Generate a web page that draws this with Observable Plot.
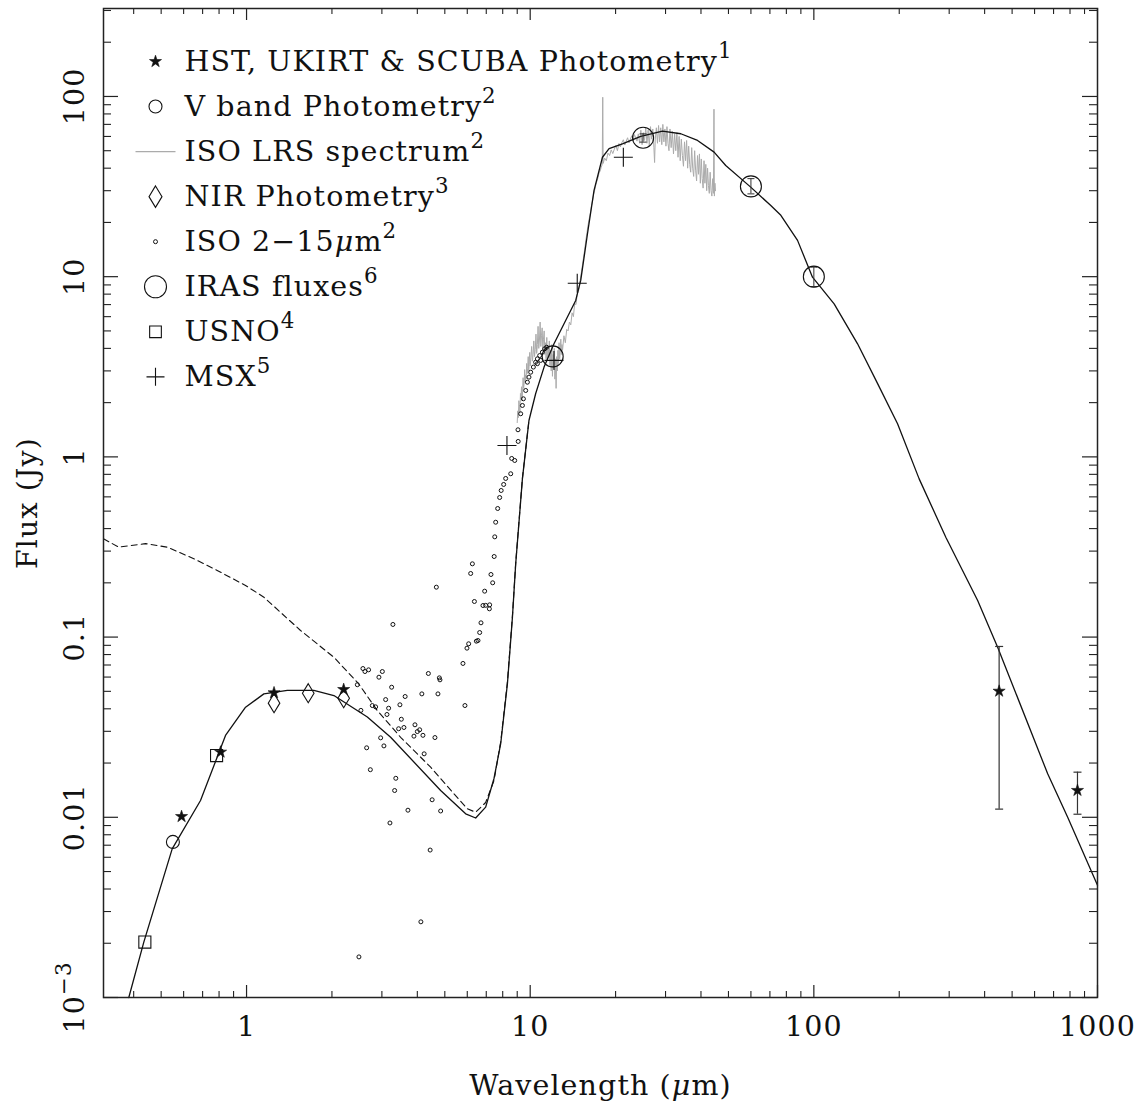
<!DOCTYPE html>
<html><head><meta charset="utf-8">
<script src="https://cdn.jsdelivr.net/npm/d3@7"></script>
<script src="https://cdn.jsdelivr.net/npm/@observablehq/plot@0.6"></script>
<style>
html,body{margin:0;padding:0;background:#fff;}
#chart svg{display:block;}
</style></head><body><div id="chart"></div>
<script>
// ---------------- DATA (wavelength in micron, flux in Jy) ----------------
const modelWave = [0.3845,0.4343,0.5468,0.6882,0.843,0.992,1.151,1.392,1.727,2.032,2.666,3.221,4.834,5.923,6.424,6.966,7.454,7.87,8.312,8.657,8.89,9.387,9.90,10.45,11.19,12.13,13.16,14.47,15.07,15.92,16.79,17.98,18.97,21.14,24.53,29.26,33.96,38.9,44.5,48.9,59.9,70.5,76.5,87.6,98.9,117.9,142.6,167.8,197.3,235.1,292.2,378,444.6,667.4,785,1000];
const modelFlux = [0.00100,0.00203,0.00668,0.01239,0.02844,0.0408,0.0484,0.0506,0.0506,0.0474,0.0360,0.0278,0.01409,0.01045,0.00991,0.01138,0.01642,0.0256,0.0551,0.1289,0.255,0.755,1.592,2.24,3.15,4.24,5.48,7.38,9.53,17.3,30.1,46.0,51.3,54.6,60.0,64.2,62.1,57.0,49.1,41.4,31.4,24.8,21.9,15.9,9.94,7.07,4.24,2.55,1.527,0.755,0.357,0.1596,0.0879,0.01743,0.0100,0.0042];

const dashWave = [0.3131,0.3543,0.4403,0.5253,0.6517,0.788,0.992,1.151,1.550,2.032,2.483,2.891,3.493,4.457,5.385,6.005,6.424,6.966,7.454,7.87,8.312,8.657,8.89,9.387,9.90];
const dashFlux = [0.351,0.3155,0.330,0.3155,0.272,0.2344,0.1933,0.1665,0.1088,0.0773,0.0551,0.0391,0.0278,0.01897,0.01349,0.01114,0.01067,0.01208,0.0160,0.0262,0.0565,0.131,0.258,0.76,1.60];

const lrsWave = [9.00,9.04,9.08,9.12,9.16,9.20,9.24,9.28,9.32,9.36,9.40,9.44,9.48,9.52,9.56,9.60,9.64,9.68,9.72,9.76,9.80,9.84,9.88,9.92,9.96,10.0,10.06,10.12,10.18,10.24,10.30,10.36,10.42,10.48,10.54,10.60,10.66,10.72,10.78,10.84,10.90,10.96,11.02,11.08,11.14,11.20,11.26,11.32,11.38,11.44,11.50,11.56,11.62,11.68,11.74,11.80,11.86,11.92,11.98,12.04,12.10,12.16,12.22,12.28,12.34,12.40,12.46,12.52,12.58,12.64,12.70,12.76,12.82,12.88,12.94,13.00,13.15,13.3,13.45,13.6,13.75,13.9,14.05,14.2,14.35,14.5,14.65,14.8,14.95,15.1,15.25,15.4,15.55,15.7,15.85,16.0,16.15,16.3,16.45,16.6,16.75,16.9,17.05,17.2,17.35,17.5,17.65,17.8,17.95,18.02,18.08,18.3,18.55,18.8,19.05,19.3,19.55,19.8,20.05,20.3,20.55,20.8,21.05,21.3,21.55,21.8,22.05,22.3,22.55,22.8,23.05,23.3,23.55,23.8,24.05,24.3,24.55,24.8,25.05,25.3,25.55,25.8,26.05,26.3,26.55,26.8,27.05,27.3,27.45,27.6,27.85,28.1,28.35,28.6,28.85,29.1,29.35,29.6,29.85,30.1,30.35,30.6,30.85,31.1,31.4,31.7,32.0,32.3,32.6,32.9,33.2,33.5,33.8,34.1,34.4,34.7,35.0,35.3,35.6,35.9,36.2,36.5,36.8,37.1,37.4,37.7,38.0,38.3,38.6,38.9,39.2,39.5,39.8,40.1,40.4,40.7,41.0,41.3,41.6,41.9,42.2,42.5,42.8,43.1,43.4,43.7,44.0,44.25,44.45,44.6,44.8,45.0];
const lrsFlux = [1.55,1.80,1.65,2.05,1.95,1.75,2.25,2.10,2.45,2.05,2.30,2.75,2.40,2.55,3.05,2.60,2.85,2.70,3.30,2.90,3.10,3.60,3.00,3.25,3.80,3.20,3.55,4.10,3.40,3.70,4.40,3.60,3.95,4.80,3.75,4.20,5.30,4.00,4.45,5.60,4.10,4.70,5.20,3.90,4.50,5.00,3.70,4.30,3.50,4.60,3.40,4.10,3.60,4.40,3.20,3.90,3.00,4.20,2.80,3.70,3.10,4.00,2.70,3.50,2.40,3.60,3.00,3.90,3.30,4.30,3.50,3.80,4.50,3.70,4.20,3.90,4.7,4.3,5.1,5.0,5.6,5.4,6.3,6.0,7.1,7.0,8.0,8.3,9.2,10.2,11.3,12.6,14.0,15.8,17.5,19.4,21,22.6,24.8,26.5,28.8,30.4,32.5,34.0,35.5,37.8,38.6,40.5,42.0,99,42.5,45.5,44.0,48.5,47.0,50.5,48.2,51.0,53.5,50.0,54.8,52.5,55.5,57.5,53.8,56.5,59.0,55.2,58.0,60.5,57.0,61.5,59.0,56.5,62,55,65,54,63,57,67,55,65,53,68,58,66,52,43,58,67,55,69,56,67,54,70,56,66,53,68,55,50,66,52,64,48,62,50,63,46,60,44,58,47,41,56,44,57,40,53,42,38,52,40,36,50,39,34,47,37,48,33,45,35,31,44,33,42,30,40,32,29,38,30,28,35,29,85,28,33,30];

const isoWave = [2.572,2.615,2.693,2.458,2.929,3.011,3.281,3.247,4.375,4.783,4.807,4.668,5.794,5.985,6.068,5.888,6.254,6.168,6.357,6.46,6.545,6.636,6.707,6.816,6.966,7.179,7.196,6.91,7.273,7.374,7.464,7.556,7.50,2.530,2.776,2.851,3.093,3.169,3.126,3.623,3.473,3.513,3.437,3.588,4.150,3.924,4.001,4.076,3.892,4.187,4.729,4.615,4.228,2.970,3.050,2.651,2.732,3.359,3.327,4.511,4.834,3.707,3.203,4.439,4.117,2.490,8.538,8.818,9.07,9.057,9.258,9.387,9.463,9.641,9.774,9.90,10.04,10.26,10.45,10.60,10.80,11.04,11.25,11.43,10.60,10.89,7.68,7.805,7.90,8.062,8.195,8.605];
const isoFlux = [0.0669,0.0644,0.0658,0.0544,0.0599,0.0644,0.1175,0.0527,0.0628,0.0594,0.0579,0.1892,0.0714,0.0868,0.0918,0.0417,0.255,0.2254,0.1576,0.0949,0.0957,0.106,0.120,0.1497,0.150,0.1435,0.151,0.1798,0.2225,0.2001,0.280,0.434,0.36,0.0392,0.0417,0.0410,0.0450,0.0403,0.0372,0.0468,0.0421,0.0350,0.0310,0.0315,0.0484,0.0326,0.0299,0.0306,0.0282,0.0285,0.0484,0.0277,0.0225,0.0276,0.0249,0.0243,0.01837,0.01646,0.01408,0.01251,0.01084,0.01095,0.00930,0.00658,0.00263,0.00168,0.806,0.955,1.218,1.414,1.735,1.929,2.10,2.336,2.597,2.77,2.95,3.15,3.35,3.50,3.65,3.81,3.98,4.06,3.29,3.43,0.517,0.595,0.651,0.703,0.759,0.980];

const starWave = [0.59,0.81,1.25,2.2,450,850];
const starFlux = [0.0101,0.0230,0.0491,0.0512,0.0501,0.0141];
const subWave = [450,850];
const subLo = [0.0111,0.0104];
const subHi = [0.0887,0.0178];

const vbandWave = [0.55];
const vbandFlux = [0.0073];
const nirWave = [1.25,1.65,2.2];
const nirFlux = [0.0430,0.0488,0.0458];
const usnoWave = [0.438,0.784];
const usnoFlux = [0.00203,0.0220];
const irasWave = [12,25,60,100];
const irasFlux = [3.61,59.0,31.7,10.0];
const irasErrWave = [25,60,100];
const irasLo = [55.8,28.8,8.8];
const irasHi = [62.0,35.0,11.3];
const msxWave = [8.28,12.13,14.65,21.3];
const msxFlux = [1.157,3.43,9.2,46.0];

const xTickValues = [1,10,100,1000];
const xTickLabels = ["1","10","100","1000"];
const xMinor = [0.4,0.5,0.6,0.7,0.8,0.9,2,3,4,5,6,7,8,9,20,30,40,50,60,70,80,90,200,300,400,500,600,700,800,900];
const yTickValues = [0.001,0.01,0.1,1,10,100];
const yTickLabels = ["10^−3","0.01","0.1","1","10","100"];
const yMinor = [0.002,0.003,0.004,0.005,0.006,0.007,0.008,0.009,0.02,0.03,0.04,0.05,0.06,0.07,0.08,0.09,0.2,0.3,0.4,0.5,0.6,0.7,0.8,0.9,2,3,4,5,6,7,8,9,20,30,40,50,60,70,80,90,200,300];

const legendLabels = ["HST, UKIRT & SCUBA Photometry","V band Photometry","ISO LRS spectrum","NIR Photometry","ISO 2−15μm","IRAS fluxes","USNO","MSX"];
const legendRefs = ["1","2","2","3","2","6","4","5"];
const xTitle = "Wavelength (μm)";
const yTitle = "Flux (Jy)";

// ---------------- TABLES ----------------
const zip = (xs, ys) => xs.map((x, i) => ({x, y: ys[i]}));
const model = zip(modelWave, modelFlux);
const dashed = zip(dashWave, dashFlux);
const lrs = zip(lrsWave, lrsFlux);
const iso = zip(isoWave, isoFlux);
const stars = zip(starWave, starFlux);
const subErr = subWave.map((x, i) => ({x, lo: subLo[i], hi: subHi[i]}));
const vband = zip(vbandWave, vbandFlux);
const nir = zip(nirWave, nirFlux);
const usno = zip(usnoWave, usnoFlux);
const iras = zip(irasWave, irasFlux);
const irasErr = irasErrWave.map((x, i) => ({x, lo: irasLo[i], hi: irasHi[i]}));
const msx = zip(msxWave, msxFlux);
const xTicks = xTickValues.map((v, i) => ({v, label: xTickLabels[i]}));
const yTicks = yTickValues.map((v, i) => ({v, label: yTickLabels[i]}));

// ---------------- LAYOUT ----------------
const W = 1147, H = 1108;
const mL = 103, mR = 50, mT = 8, mB = 111;
const fw = W - mL - mR, fh = H - mT - mB;
const FONT = "DejaVu Serif";
const FS = 28.5;
const INK = "#111";
const GREY = "#ababab";

const capSym = (hw) => ({draw(ctx) { ctx.moveTo(-hw, 0); ctx.lineTo(hw, 0); }});
const plusSym = {draw(ctx, size) { const r = Math.sqrt(size / Math.PI); ctx.moveTo(-r, 0); ctx.lineTo(r, 0); ctx.moveTo(0, -r); ctx.lineTo(0, r); }};
const diamondSym = {draw(ctx, size) { const r = Math.sqrt(size / Math.PI); const h = 1.65 * r; ctx.moveTo(0, -h); ctx.lineTo(r, 0); ctx.lineTo(0, h); ctx.lineTo(-r, 0); ctx.closePath(); }};
const lineSym = {draw(ctx) { ctx.moveTo(-20, 0); ctx.lineTo(20, 0); }};

const legendStyles = [
  {symbol: "star", r: 3.8, fill: INK, stroke: INK, strokeWidth: 0.6},
  {symbol: "circle", r: 6.5, fill: "none", stroke: INK, strokeWidth: 1.1},
  {symbol: lineSym, r: 4, fill: "none", stroke: GREY, strokeWidth: 1.2},
  {symbol: diamondSym, r: 6.5, fill: "none", stroke: INK, strokeWidth: 1.1},
  {symbol: "circle", r: 2, fill: "none", stroke: INK, strokeWidth: 1},
  {symbol: "circle", r: 11, fill: "none", stroke: INK, strokeWidth: 1.1},
  {symbol: "square", r: 6.6, fill: "none", stroke: INK, strokeWidth: 1.1},
  {symbol: plusSym, r: 9, fill: "none", stroke: INK, strokeWidth: 1.1}
];

const legendMarks = [];
legendLabels.forEach((lab, i) => {
  const dy = 53 + 45.05 * i;
  legendMarks.push(Plot.dot([lab], {frameAnchor: "top-left", dx: 52, dy, ...legendStyles[i]}));
  legendMarks.push(Plot.text([lab + "^" + legendRefs[i]], {frameAnchor: "top-left", dx: 81, dy, text: d => d, textAnchor: "start", lineAnchor: "middle", fontFamily: FONT, fontSize: FS, fill: INK}));
});

const plot = Plot.plot({
  width: W, height: H,
  marginLeft: mL, marginRight: mR, marginTop: mT, marginBottom: mB,
  style: {fontFamily: FONT, fontSize: FS + "px", background: "white", color: INK},
  x: {type: "log", domain: [0.3131, 1000], axis: null},
  y: {type: "log", domain: [0.001, 307.7], axis: null},
  marks: [
    // data
    Plot.line(lrs, {x: "x", y: "y", stroke: GREY, strokeWidth: 1}),
    Plot.line(dashed, {x: "x", y: "y", stroke: INK, strokeWidth: 1.1, strokeDasharray: "6,4"}),
    Plot.line(model, {x: "x", y: "y", stroke: INK, strokeWidth: 1.3}),
    Plot.dot(iso, {x: "x", y: "y", r: 2, fill: "none", stroke: INK, strokeWidth: 1}),
    Plot.ruleX(subErr, {x: "x", y1: "lo", y2: "hi", stroke: "#333", strokeWidth: 1.2}),
    Plot.dot(subErr, {x: "x", y: "lo", symbol: capSym(4), stroke: "#333", strokeWidth: 1.2}),
    Plot.dot(subErr, {x: "x", y: "hi", symbol: capSym(4), stroke: "#333", strokeWidth: 1.2}),
    Plot.ruleX(irasErr, {x: "x", y1: "lo", y2: "hi", stroke: "#333", strokeWidth: 1}),
    Plot.dot(irasErr, {x: "x", y: "lo", symbol: capSym(3.5), stroke: "#333", strokeWidth: 1}),
    Plot.dot(irasErr, {x: "x", y: "hi", symbol: capSym(3.5), stroke: "#333", strokeWidth: 1}),
    Plot.dot(iras, {x: "x", y: "y", r: 10.5, fill: "none", stroke: INK, strokeWidth: 1.1}),
    Plot.dot(vband, {x: "x", y: "y", r: 6.5, fill: "none", stroke: INK, strokeWidth: 1.1}),
    Plot.dot(nir, {x: "x", y: "y", r: 5.8, symbol: diamondSym, fill: "none", stroke: INK, strokeWidth: 1.1}),
    Plot.dot(usno, {x: "x", y: "y", r: 6.8, symbol: "square", fill: "none", stroke: INK, strokeWidth: 1.1}),
    Plot.dot(msx, {x: "x", y: "y", r: 9.5, symbol: plusSym, fill: "none", stroke: INK, strokeWidth: 1.1}),
    Plot.dot(stars, {x: "x", y: "y", r: 3.8, symbol: "star", fill: INK, stroke: INK, strokeWidth: 0.6}),
    // frame & inward ticks
    Plot.frame({stroke: "#222", strokeWidth: 1.5}),
    Plot.tickX(xTickValues, {x: d => d, insetTop: fh - 12, stroke: "#222", strokeWidth: 1.2}),
    Plot.tickX(xTickValues, {x: d => d, insetBottom: fh - 12, stroke: "#222", strokeWidth: 1.2}),
    Plot.tickX(xMinor, {x: d => d, insetTop: fh - 6, stroke: "#222", strokeWidth: 1.1}),
    Plot.tickX(xMinor, {x: d => d, insetBottom: fh - 6, stroke: "#222", strokeWidth: 1.1}),
    Plot.tickY(yTickValues, {y: d => d, insetRight: fw - 15, stroke: "#222", strokeWidth: 1.2}),
    Plot.tickY(yTickValues, {y: d => d, insetLeft: fw - 15, stroke: "#222", strokeWidth: 1.2}),
    Plot.tickY(yMinor, {y: d => d, insetRight: fw - 8, stroke: "#222", strokeWidth: 1.1}),
    Plot.tickY(yMinor, {y: d => d, insetLeft: fw - 8, stroke: "#222", strokeWidth: 1.1}),
    // tick labels & titles
    Plot.text(xTicks, {x: "v", text: "label", frameAnchor: "bottom", textAnchor: "middle", lineAnchor: "bottom", dy: 38, fontFamily: FONT, fontSize: FS, fill: INK}),
    Plot.text(yTicks, {y: "v", text: "label", frameAnchor: "left", rotate: -90, textAnchor: "middle", lineAnchor: "bottom", dx: -20, fontFamily: FONT, fontSize: FS, fill: INK}),
    Plot.text([xTitle], {text: d => d, frameAnchor: "bottom", textAnchor: "middle", lineAnchor: "bottom", dy: 97, fontFamily: FONT, fontSize: FS, fill: INK}),
    Plot.text([yTitle], {text: d => d, frameAnchor: "left", rotate: -90, textAnchor: "middle", lineAnchor: "bottom", dx: -67, fontFamily: FONT, fontSize: FS, fill: INK}),
    ...legendMarks
  ]
});

// superscripts (after ^), italic mu, slightly wider letter spacing
function enrich(root) {
  const NS = "http://www.w3.org/2000/svg";
  root.querySelectorAll("text").forEach(el => {
    el.setAttribute("letter-spacing", "1.1");
    const s = el.textContent;
    if (!s.includes("^") && !s.includes("μ")) return;
    const [main, sup] = s.split("^");
    while (el.firstChild) el.removeChild(el.firstChild);
    main.split("μ").forEach((p, i) => {
      if (i > 0) { const t = document.createElementNS(NS, "tspan"); t.setAttribute("font-style", "italic"); t.textContent = "μ"; el.appendChild(t); }
      if (p) el.appendChild(document.createTextNode(p));
    });
    if (sup) { const t = document.createElementNS(NS, "tspan"); t.setAttribute("font-size", "0.75em"); t.setAttribute("dy", "-0.6em"); t.textContent = sup; el.appendChild(t); }
  });
}
enrich(plot);
document.getElementById("chart").appendChild(plot);
</script></body></html>
